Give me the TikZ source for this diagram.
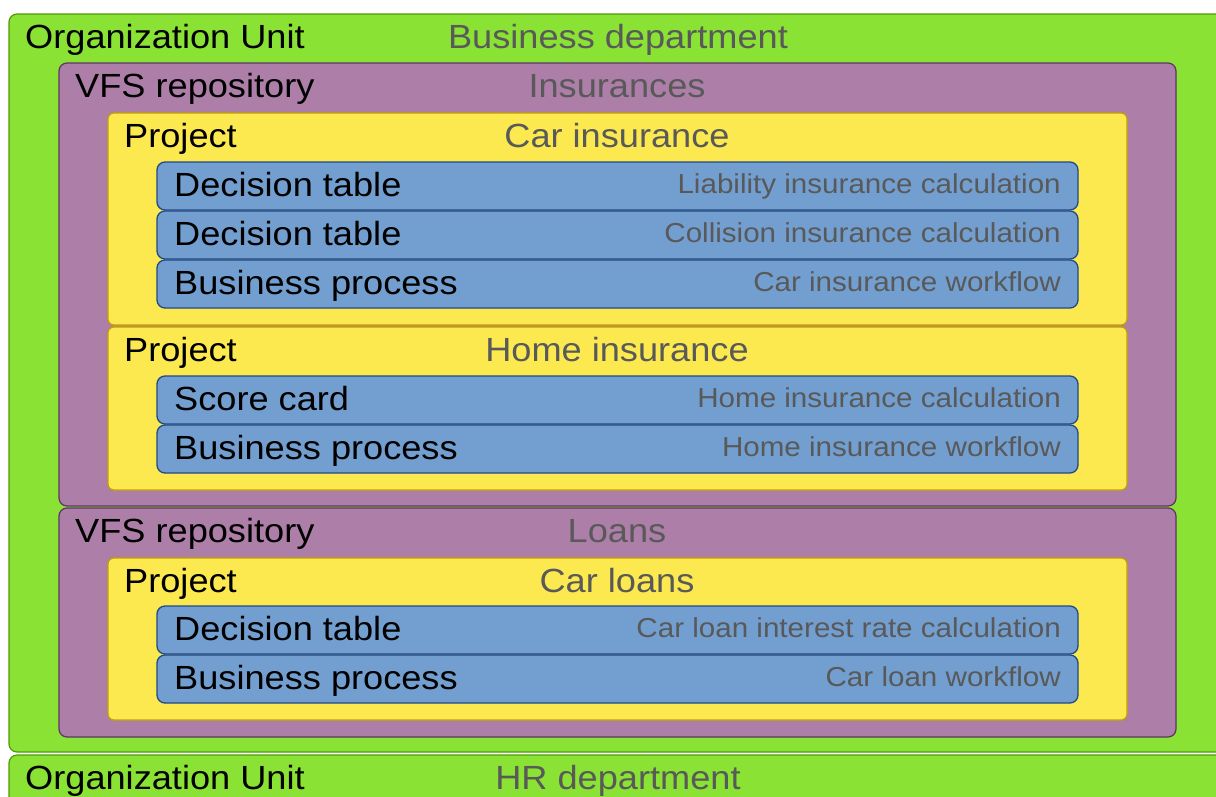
\documentclass[tikz,border=0pt]{standalone}
\usepackage{fontspec}
\setmainfont[FakeStretch=1.08]{Liberation Sans}
\usetikzlibrary{positioning}
\definecolor{orggreen}{HTML}{8AE234}
\definecolor{orgedge}{HTML}{4E9A06}
\definecolor{repopurple}{HTML}{AD7FA8}
\definecolor{repoedge}{HTML}{5C3566}
\definecolor{projyellow}{HTML}{FCE94F}
\definecolor{projedge}{HTML}{C4A000}
\definecolor{assetblue}{HTML}{729FCF}
\definecolor{assetedge}{HTML}{204A87}
\definecolor{labelgray}{HTML}{595959}
\tikzset{
  orgbox/.style={fill=orggreen, draw=orgedge, line width=1.2pt, rounded corners=8pt},
  repobox/.style={fill=repopurple, draw=repoedge, line width=1.2pt, rounded corners=8pt},
  projbox/.style={fill=projyellow, draw=projedge, line width=1.2pt, rounded corners=6pt},
  assetbox/.style={fill=assetblue, draw=assetedge, line width=1.3pt, rounded corners=8pt},
  kindtext/.style={anchor=base west, inner sep=0pt, font=\fontsize{33.5}{40}\selectfont},
  nametext/.style={anchor=base, inner sep=0pt, text=labelgray, font=\fontsize{33.5}{40}\selectfont},
  assettext/.style={anchor=base east, inner sep=0pt, text=labelgray, font=\fontsize{27.4}{32}\selectfont}
}
\begin{document}
\begin{tikzpicture}[x=1pt,y=-1pt]
\useasboundingbox (0,0) rectangle (1216,796);
\clip (0,0) rectangle (1216,796);
% organization units
\draw[orgbox] (9,14) rectangle (1240,752);
\draw[orgbox] (9,755) rectangle (1240,830);
\node[kindtext] (ou1) at (25,48) {Organization Unit};
\node[nametext] (ou1name) at (618,48) {Business department};
\node[kindtext] (ou2) at (25,789) {Organization Unit};
\node[nametext] (ou2name) at (618,789) {HR department};
% repositories
\draw[repobox] (59,63) rectangle (1176,506);
\draw[repobox] (59,508) rectangle (1176,737);
\node[kindtext] (repo1) at (75,97) {VFS repository};
\node[nametext] (repo1name) at (617,97) {Insurances};
\node[kindtext] (repo2) at (75,542) {VFS repository};
\node[nametext] (repo2name) at (617,542) {Loans};
% projects
\draw[projbox] (108,113) rectangle (1127,325);
\draw[projbox] (108,327) rectangle (1127,490);
\draw[projbox] (108,558) rectangle (1127,720);
\node[kindtext] (proj1) at (124,147) {Project};
\node[nametext] (proj1name) at (617,147) {Car insurance};
\node[kindtext] (proj2) at (124,361) {Project};
\node[nametext] (proj2name) at (617,361) {Home insurance};
\node[kindtext] (proj3) at (124,592) {Project};
\node[nametext] (proj3name) at (617,592) {Car loans};
% assets
\foreach \t/\kind/\name [count=\i] in {
    162/Decision table/Liability insurance calculation,
    211/Decision table/Collision insurance calculation,
    260/Business process/Car insurance workflow,
    376/Score card/Home insurance calculation,
    425/Business process/Home insurance workflow,
    606/Decision table/Car loan interest rate calculation,
    655/Business process/Car loan workflow}{
  \draw[assetbox] (157,\t) rectangle (1078,\t+48);
  \node[kindtext] (asset\i) at (174,\t+34) {\kind};
  \node[assettext] (asset\i name) at (1061,\t+31) {\name};
}
\end{tikzpicture}
\end{document}
